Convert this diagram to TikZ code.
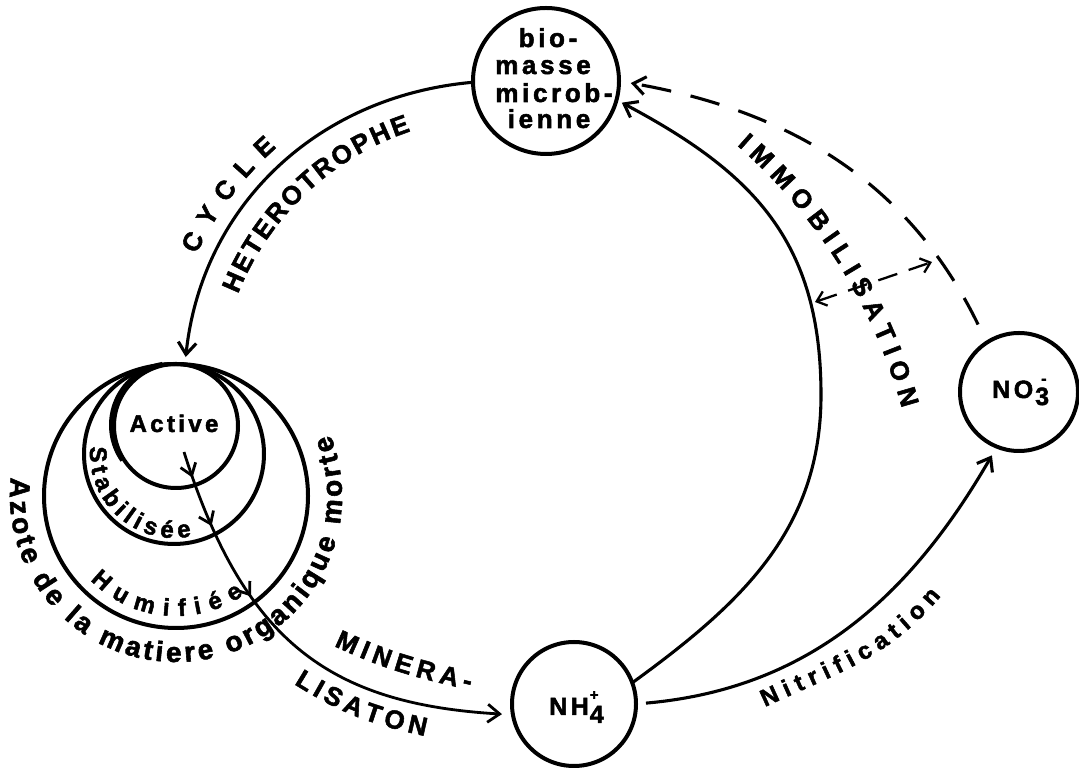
\documentclass[tikz,border=0pt]{standalone}
\usepackage{fontspec}
\setmainfont{Liberation Sans}[BoldFeatures={FakeBold=2}]
\usetikzlibrary{arrows.meta,decorations.text,decorations.markings}
\newcommand\fA{\fontsize{26}{28}\selectfont\bfseries}
\newcommand\fB{\fontsize{24}{26}\selectfont\bfseries}
\newcommand\fC{\fontsize{28}{30}\selectfont\bfseries}
\newcommand\fS{\addfontfeature{LetterSpace=14}}
\begin{document}
\begin{tikzpicture}[x=1pt,y=1pt,
  circ/.style={circle,draw,line width=4pt,inner sep=0pt,outer sep=0pt},
  ring/.style={line width=4pt},
  barb/.style={-{Straight Barb[length=12pt,width=18pt]}},
  conn/.style={line width=3.1pt,barb},
  dashconn/.style={conn,dash pattern=on 30pt off 20pt},
  minl/.style={line width=2.8pt,barb,
    postaction={decorate},
    decoration={markings,
      mark=at position 27pt with {\arrow{Straight Barb[length=11pt,width=16pt]}},
      mark=at position 79pt with {\arrow{Straight Barb[length=11pt,width=16pt]}},
      mark=at position 160pt with {\arrow{Straight Barb[length=11pt,width=16pt]}}}},
  dbl/.style={line width=2.3pt,dash pattern=on 20pt off 12pt,
    {Straight Barb[length=9pt,width=15pt]}-{Straight Barb[length=9pt,width=15pt]}},
  curvtext/.style={decorate,decoration={text along path,text align={fit to path},text={#1}}},
  lab/.style={inner sep=0pt},
  biol/.style={inner sep=0pt,anchor=base,font=\fontsize{26}{28}\selectfont\bfseries\fS},
]
\useasboundingbox (0,0) rectangle (1079,768);

% circles
\node[circ,minimum size=146pt] (bio) at (546,687) {};
\node[circ,minimum size=118pt] (no3) at (1019,376) {};
\node[circ,minimum size=124pt] (nh4) at (574,64) {};
\node[circ,minimum size=124pt] (act) at (176,342) {};
\node[circ,minimum size=180pt] (stab) at (174,314) {};
\node[circ,minimum size=264pt] (hum) at (176,272) {};
\draw[ring] ([shift={(100:62)}]173,343) arc[start angle=100,end angle=215,radius=62];

% texts in circles
\node[biol] (bioA) at (548,721) {bio-};
\node[biol] (bioB) at (543,694) {masse};
\node[biol] (bioC) at (554,666) {microb-};
\node[biol] (bioD) at (549,640) {ienne};
\node[lab,anchor=base west] (no3text) at (992,370) {\fontsize{25}{27}\selectfont\bfseries\fS NO\hspace{2pt}\makebox[0pt][l]{\hspace{6pt}\raisebox{14pt}{\fontsize{16}{16}\selectfont -}}\raisebox{-7pt}{3}};
\node[lab,anchor=base west] (nh4text) at (549,53) {\fontsize{25}{27}\selectfont\bfseries\fS NH\hspace{1pt}\makebox[0pt][l]{\raisebox{15pt}{\fontsize{15}{15}\selectfont +}}\raisebox{-8pt}{4}};
\node[lab,anchor=base] (acttext) at (174,336) {\fontsize{24}{26}\selectfont\bfseries\fS Active};

% coordinates
\coordinate (ctop) at (185,404);
\coordinate (imid) at (821,373);
\coordinate (m0) at (184,316);
\coordinate (ia) at (815,466);
\coordinate (ib) at (932,506);

% connectors
\draw[conn,shorten >=7pt] (bio.181) to[out=185,in=84] (ctop);
\draw[conn,shorten >=6pt] (nh4.20) to[out=36,in=-90] (imid) to[out=90,in=-28,looseness=1.1] (bio.-15);
\draw[dashconn,shorten <=20pt,shorten >=12pt] (no3.123) to[out=116,in=-10] (bio.east);
\draw[conn,shorten <=10pt,shorten >=10pt] (nh4.east) to[out=5,in=-120] (no3.248);
\draw[minl,shorten >=11pt] (m0) .. controls (244,126) and (330,64) .. (nh4.190);
\draw[dbl] (ia) -- (ib);

% curved labels
\path[curvtext={|\fA|CYCLE}] ([shift={(154.6:335)}]499,370) arc[start angle=154.6,end angle=131.6,radius=335];
\path[curvtext={|\fA|HETEROTROPHE}] ([shift={(158.3:281)}]499,370) arc[start angle=158.3,end angle=108.3,radius=281];
\path[curvtext={|\fA|IMMOBILISATION}] ([shift={(48.9:537)}]384,218) arc[start angle=48.9,end angle=15.3,radius=537];
\path[curvtext={|\fB|Stabilisée}] ([shift={(174.9:84)}]174,314) arc[start angle=174.9,end angle=281.9,radius=84];
\path[curvtext={|\fB|Humifiée}] ([shift={(224.5:120)}]176,272) arc[start angle=224.5,end angle=304.3,radius=120];
\path[curvtext={|\fC|Azote de la matiere organique morte}] ([shift={(173.6:166)}]176,272) arc[start angle=173.6,end angle=381.7,radius=166];
\path[curvtext={|\fA|MINERA-}] (334,122) to[out=-25,in=167] (470,78);
\path[curvtext={|\fA|LISATON}] (294,84) to[out=-32,in=168] (425,32);
\path[curvtext={|\fB|Nitrification}] (765,61) to[out=25,in=-130] (941,172);
\end{tikzpicture}
\end{document}
